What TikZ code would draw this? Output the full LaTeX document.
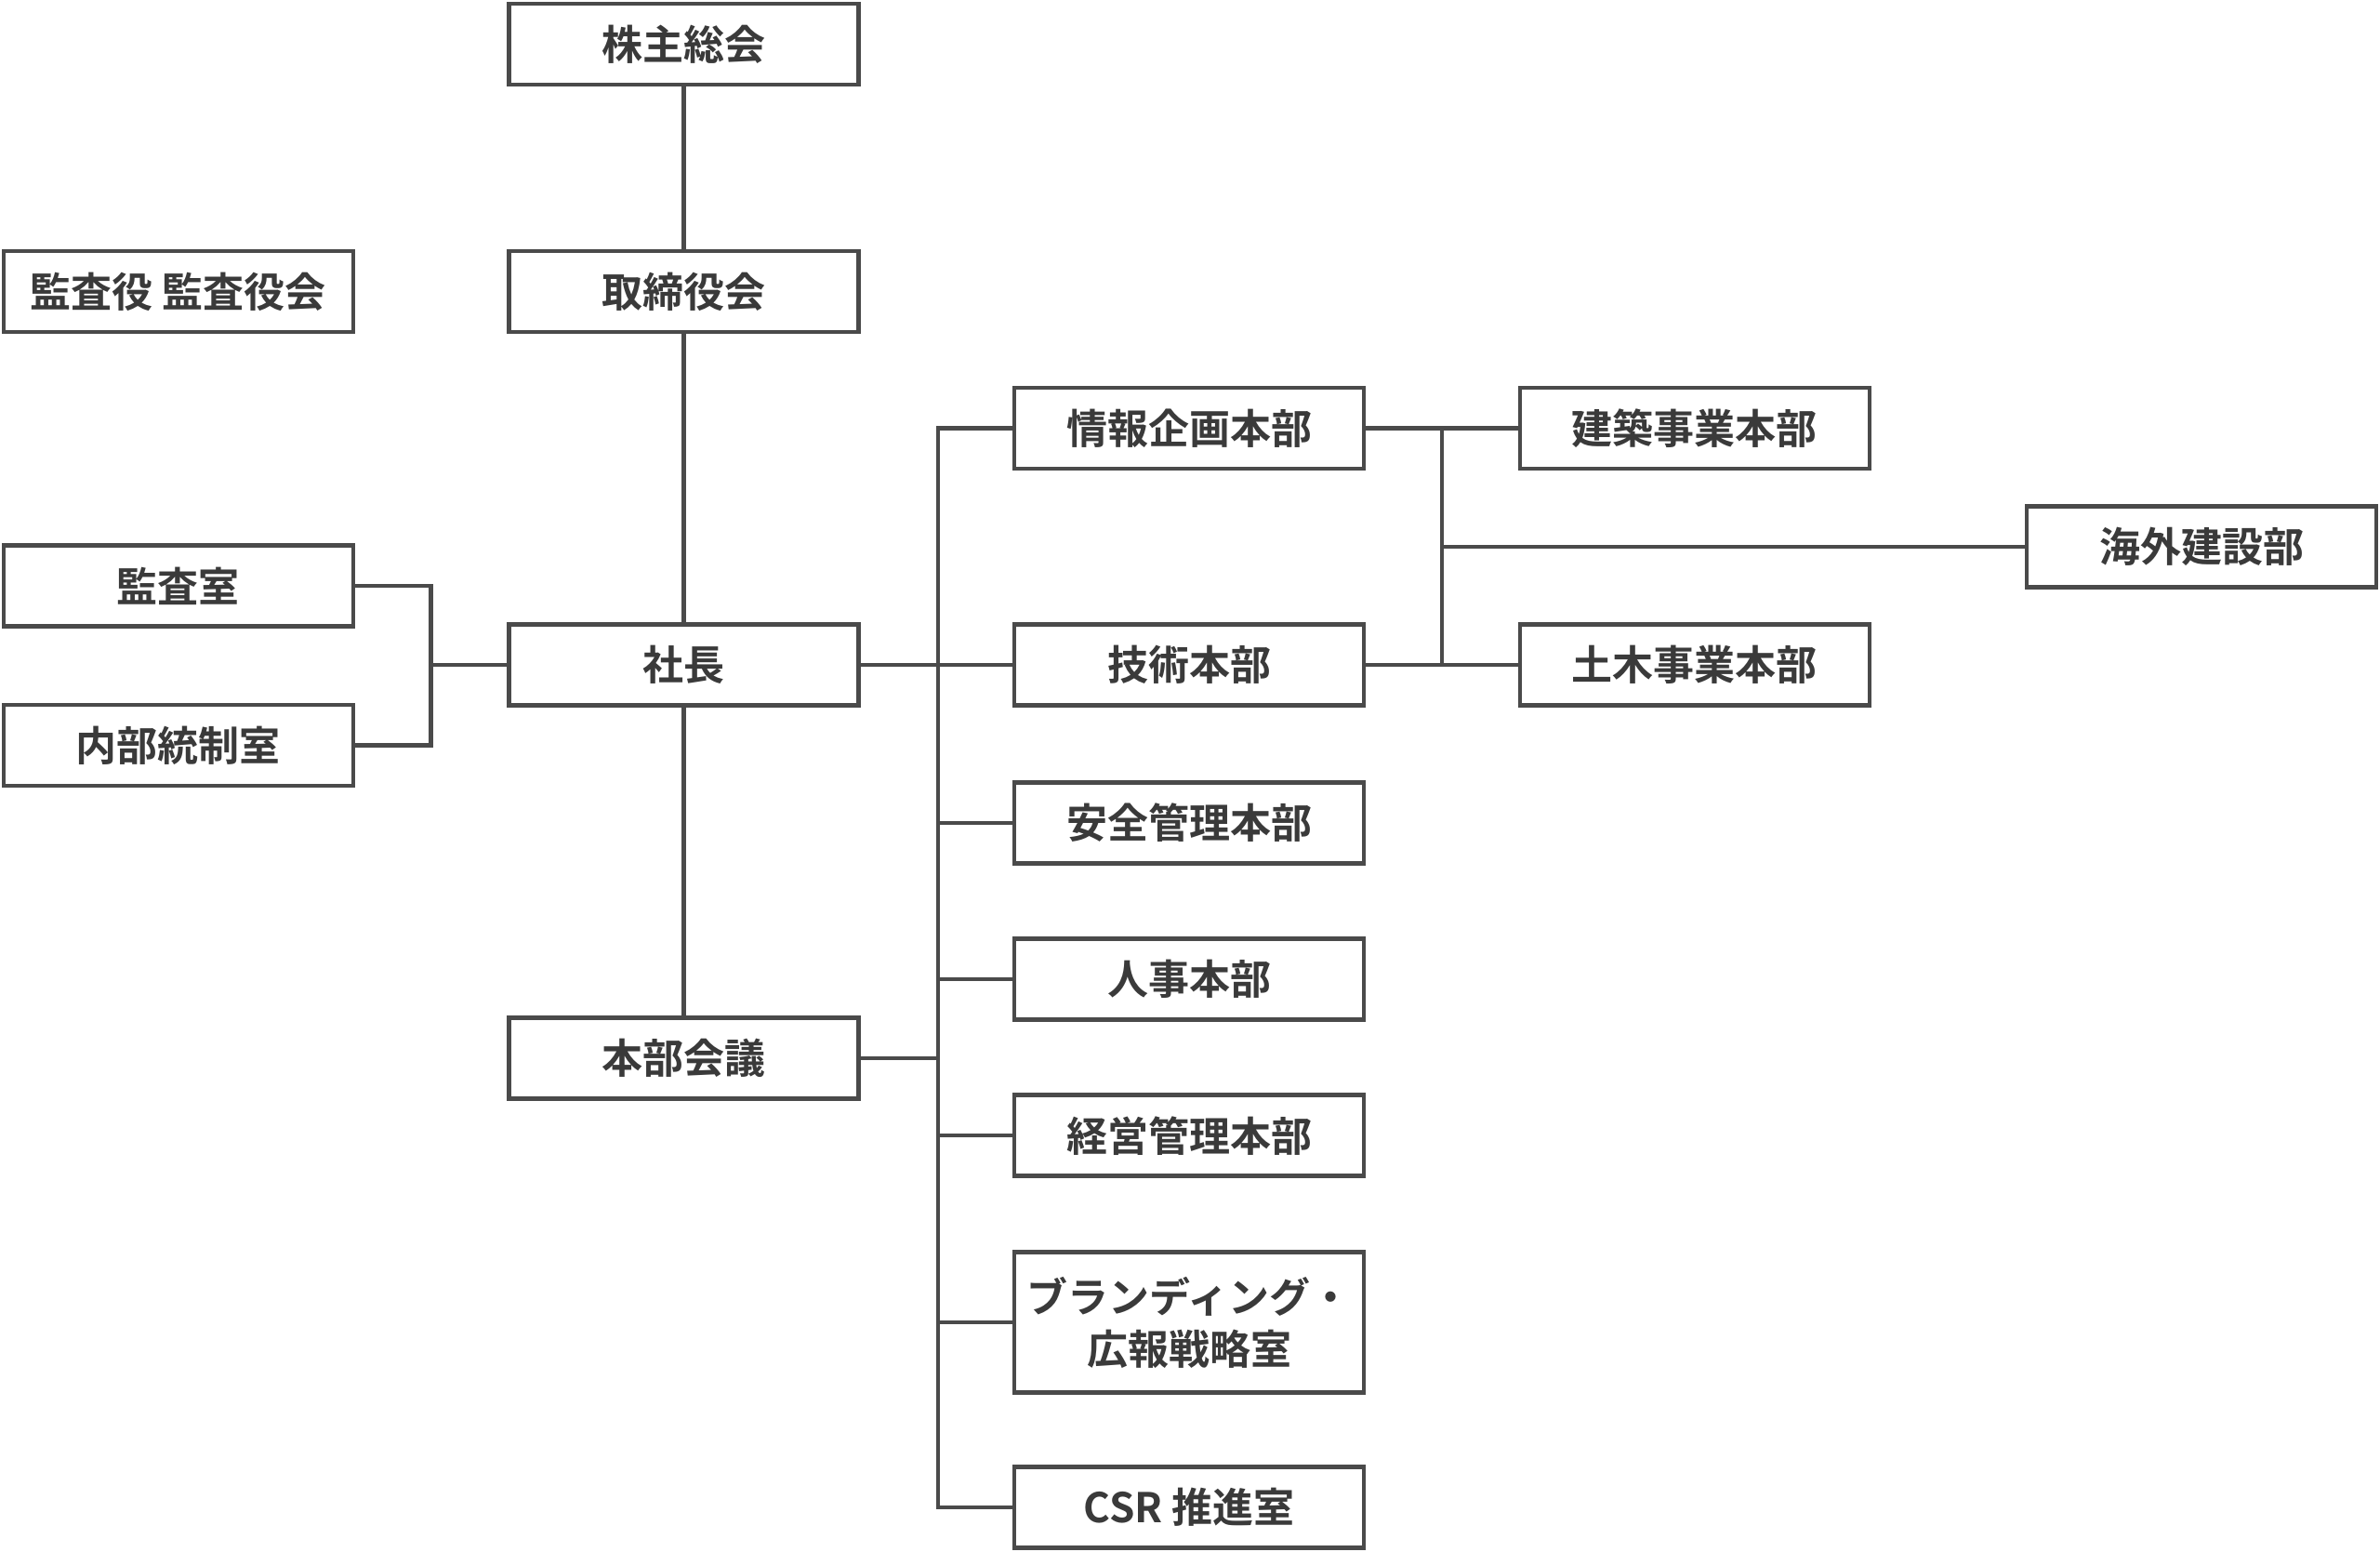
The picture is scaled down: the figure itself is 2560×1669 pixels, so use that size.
\documentclass[tikz,border=0pt]{standalone}
\usepackage{fontspec}
\setmainfont{Noto Sans CJK JP}[BoldFont={Noto Sans CJK JP Bold}]
\definecolor{linegray}{HTML}{4A4A4A}
\definecolor{textgray}{HTML}{3A3A3A}
\begin{document}
\begin{tikzpicture}[x=1pt,y=-1pt,
  box/.style={draw=linegray,line width=4.5pt,fill=white,minimum width=376pt,minimum height=87pt,inner sep=0pt,
    text=textgray,font=\fontsize{44}{56}\selectfont\bfseries,align=center},
  conn/.style={draw=linegray,line width=4.5pt}]
\useasboundingbox (0,0) rectangle (2560,1669);
% column B
\node[box] (kabu) at (735.5,47.3) {株主総会};
\node[box] (tori) at (735.5,313.5) {取締役会};
\node[box] (sha) at (735.5,715.1) {社長};
\node[box] (honbu) at (735.5,1138) {本部会議};
% column A
\node[box] (kansayaku) at (191.8,313.5) {監査役 監査役会};
\node[box] (kansa) at (191.8,630.2) {監査室};
\node[box] (naibu) at (191.8,801.6) {内部統制室};
% column C
\node[box] (joho) at (1279,460.4) {情報企画本部};
\node[box] (gijutsu) at (1279,715.1) {技術本部};
\node[box] (anzen) at (1279,884.9) {安全管理本部};
\node[box] (jinji) at (1279,1053) {人事本部};
\node[box] (keiei) at (1279,1221.2) {経営管理本部};
\node[box,minimum height=151pt] (brand) at (1279,1422) {ブランディング・\\広報戦略室};
\node[box] (csr) at (1279,1621.2) {CSR 推進室};
% column D
\node[box] (kenchiku) at (1822.9,460.4) {建築事業本部};
\node[box] (doboku) at (1822.9,715.1) {土木事業本部};
% column E
\node[box] (kaigai) at (2368,587.8) {海外建設部};
% coordinates
\coordinate (spT) at (1009,460.4);
\coordinate (spB) at (1009,1621.2);
\coordinate (busT) at (1551,460.4);
\coordinate (busB) at (1551,715.1);
\coordinate (busM) at (1551,587.8);
\coordinate (lbT) at (463.7,630.2);
\coordinate (lbB) at (463.7,801.6);
\coordinate (lbM) at (463.7,715.1);
% vertical chain
\draw[conn] (kabu.south) -- (tori.north);
\draw[conn] (tori.south) -- (sha.north);
\draw[conn] (sha.south) -- (honbu.north);
% left bus
\draw[conn] (kansa.east) -- (lbT) -- (lbB) -- (naibu.east);
\draw[conn] (lbM) -- (sha.west);
% spine
\draw[conn] (joho.west) -- (spT) -- (spB) -- (csr.west);
\draw[conn] (sha.east) -- (gijutsu.west);
\draw[conn] (honbu.east) -- (honbu.east -| spT);
\draw[conn] (anzen.west) -- (anzen.west -| spT);
\draw[conn] (jinji.west) -- (jinji.west -| spT);
\draw[conn] (keiei.west) -- (keiei.west -| spT);
\draw[conn] (brand.west) -- (brand.west -| spT);
% right bus
\draw[conn] (joho.east) -- (kenchiku.west);
\draw[conn] (gijutsu.east) -- (doboku.west);
\draw[conn] (busT) -- (busB);
\draw[conn] (busM) -- (kaigai.west);
\end{tikzpicture}
\end{document}
